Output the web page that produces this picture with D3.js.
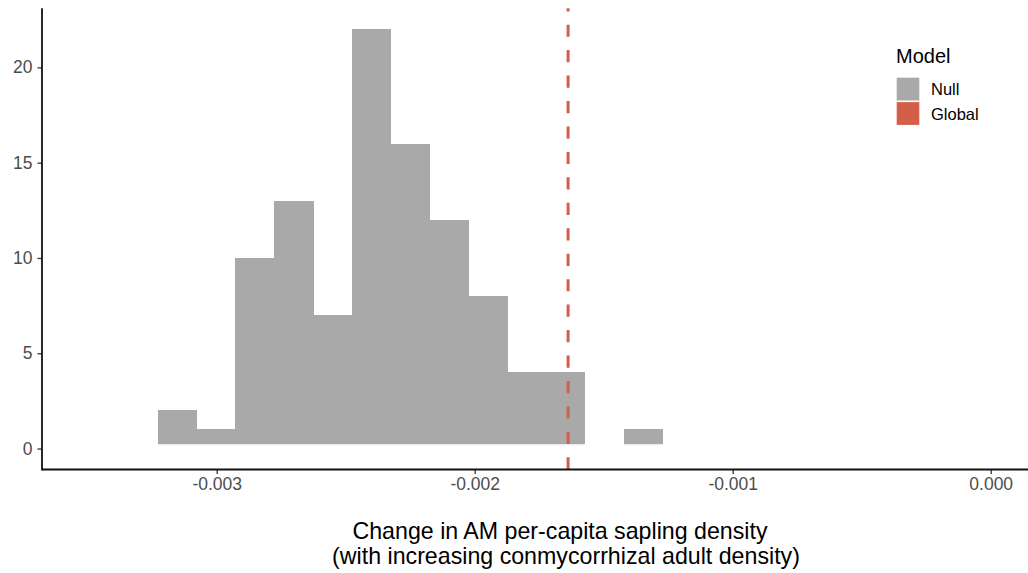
<!DOCTYPE html>
<html><head><meta charset="utf-8">
<script src="https://cdn.jsdelivr.net/npm/d3@7"></script>
<style>body{margin:0;background:#fff}svg{display:block;font-family:"Liberation Sans",Arial,Helvetica,sans-serif}</style>
</head><body>
<svg id="c" width="1028" height="573"></svg>
<script>
// Histogram bin edges (left edges) and counts for the Null model
const binStarts = [-0.0032287,-0.0030782,-0.0029277,-0.0027772,-0.0026267,-0.0024762,-0.0023257,-0.0021752,-0.0020247,-0.0018742,-0.0017237,-0.0015732,-0.0014227];
const binEnds   = [-0.0030782,-0.0029277,-0.0027772,-0.0026267,-0.0024762,-0.0023257,-0.0021752,-0.0020247,-0.0018742,-0.0017237,-0.0015732,-0.0014227,-0.0012722];
const counts    = [2,1,10,13,7,22,16,12,8,4,4,0,1];
const globalValue = -0.001638;
const xTicks = [-0.003,-0.002,-0.001,0.000];
const xTickLabels = ["-0.003","-0.002","-0.001","0.000"];
const yTicks = [0,5,10,15,20];
const legendLabels = ["Null","Global"];
const legendColors = ["#A9A9A9","#D35F48"];

const svg = d3.select("#c");
const x = d3.scaleLinear().domain([-0.0036771,0.0001446]).range([42,1028]);
const y = d3.scaleLinear().domain([-1.1,23.1]).range([469.5,8.3]);

// bars
svg.append("g").attr("shape-rendering","crispEdges").selectAll("rect").data(counts).join("rect")
  .attr("x",(d,i)=>x(binStarts[i]))
  .attr("width",(d,i)=>x(binEnds[i])-x(binStarts[i])+0.5)
  .attr("y",d=>y(d))
  .attr("height",d=>y(0)-y(d))
  .attr("fill",legendColors[0]);

// white baseline line
svg.append("line").attr("x1",x.range()[0]+2).attr("x2",x.range()[1])
  .attr("y1",y(0)).attr("y2",y(0)).attr("stroke","#fff").attr("stroke-width",8.4);

// global dashed line (drawn bottom to top)
svg.append("line").attr("x1",x(globalValue)).attr("x2",x(globalValue))
  .attr("y1",y.range()[0]).attr("y2",y.range()[1])
  .attr("stroke",legendColors[1]).attr("stroke-width",3)
  .attr("stroke-dasharray","12.2 13.25");

// axes
const xAxis = d3.axisBottom(x).tickValues(xTicks).tickFormat((d,i)=>xTickLabels[i]).tickSize(4.5).tickPadding(4);
const gx = svg.append("g").attr("transform",`translate(0,${y.range()[0]})`).call(xAxis);
const yAxis = d3.axisLeft(y).tickValues(yTicks).tickSize(4.5).tickPadding(5);
const gy = svg.append("g").attr("transform",`translate(${x.range()[0]},0)`).call(yAxis);
[gx,gy].forEach(g=>{
  g.select(".domain").remove();
  g.selectAll(".tick line").attr("stroke","#333").attr("stroke-width",1.3);
  g.selectAll(".tick text").attr("fill","#4D4D4D").attr("font-size","17.5px").attr("font-family",null);
});
svg.append("line").attr("x1",x.range()[0]).attr("x2",x.range()[1]).attr("y1",y.range()[0]).attr("y2",y.range()[0]).attr("stroke","#111").attr("stroke-width",1.8);
svg.append("line").attr("x1",x.range()[0]).attr("x2",x.range()[0]).attr("y1",y.range()[1]).attr("y2",y.range()[0]+0.9).attr("stroke","#111").attr("stroke-width",1.8);

// axis title
const title = svg.append("g").attr("font-size","23.2px").attr("fill","#000").attr("text-anchor","middle");
title.append("text").attr("x",560).attr("y",539.3).text("Change in AM per-capita sapling density");
title.append("text").attr("x",566).attr("y",564).text("(with increasing conmycorrhizal adult density)");

// legend
const lg = svg.append("g");
lg.append("text").attr("x",896).attr("y",63.3).attr("font-size","20px").text("Model");
const items = lg.selectAll("g.it").data(legendLabels).join("g").attr("class","it")
  .attr("transform",(d,i)=>`translate(896.7,${77.7+i*24.4})`);
items.append("rect").attr("width",22.6).attr("height",22.8).attr("fill",(d,i)=>legendColors[i]);
items.append("text").attr("x",34.3).attr("y",17.6).attr("font-size","16.5px").attr("fill","#000").text(d=>d);
</script>
</body></html>
